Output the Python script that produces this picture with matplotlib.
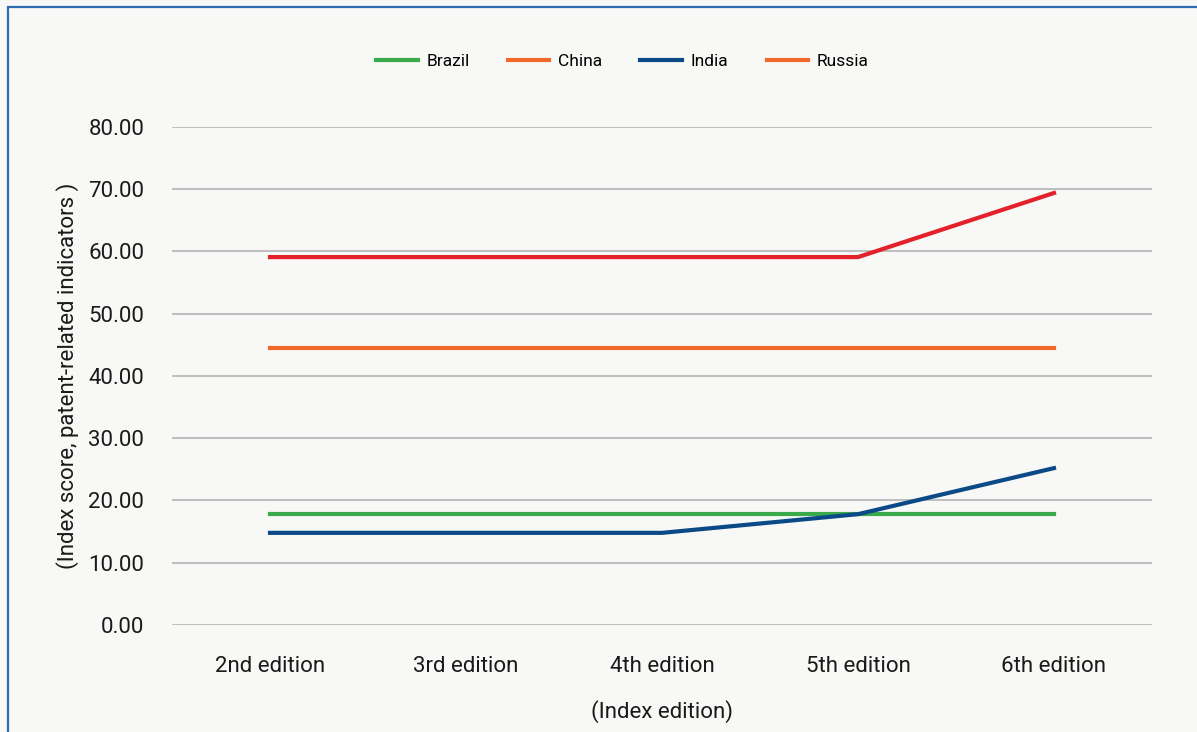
import numpy as np
import matplotlib.pyplot as plt
from matplotlib.lines import Line2D
from matplotlib.patches import Rectangle

editions = ['2nd edition', '3rd edition', '4th edition', '5th edition', '6th edition']
brazil = [17.8, 17.8, 17.8, 17.8, 17.8]
china = [59.1, 59.1, 59.1, 59.1, 69.4]
india = [14.8, 14.8, 14.8, 17.8, 25.2]
russia = [44.5, 44.5, 44.5, 44.5, 44.5]
y_ticks = [0, 10, 20, 30, 40, 50, 60, 70, 80]

plt.rcParams['font.family'] = ['Roboto', 'DejaVu Sans']

bg = '#f8f8f6'
fig = plt.figure(figsize=(11.97, 7.32), dpi=100, facecolor=bg)

# thin blue frame around the panel
fig.patches.append(Rectangle((8/1197, -0.05), 1.2, 1 - 7/732 + 0.05,
                             transform=fig.transFigure, fill=False,
                             edgecolor='#2d6cb0', linewidth=1.6))

ax = fig.add_axes([0.1437, 0.1462, 0.8187, 0.6803])
ax.set_facecolor('none')

x = np.arange(len(editions))
ax.plot(x, brazil, color='#3aaa4a', linewidth=3)
ax.plot(x, russia, color='#f26a2a', linewidth=3)
ax.plot(x, china, color='#e3212b', linewidth=3)
ax.plot(x, india, color='#0b4a87', linewidth=3)

ax.set_xlim(-0.5, 4.5)
ax.set_ylim(0, 80)
ax.set_yticks(y_ticks)
ax.set_yticklabels(['%.2f' % v for v in y_ticks])
ax.set_xticks(x)
ax.set_xticklabels(editions)
ax.grid(axis='y', color='#bdbdbd', linewidth=1.4)
ax.set_axisbelow(True)
for s in ax.spines.values():
    s.set_visible(False)
ax.tick_params(length=0, labelsize=16, colors='#1a1a1a')
ax.tick_params(axis='y', pad=20)
ax.tick_params(axis='x', pad=22)

ax.set_ylabel('(Index score, patent-related indicators )', fontsize=16,
              color='#1a1a1a', labelpad=7)
ax.set_xlabel('(Index edition)', fontsize=16, color='#1a1a1a', labelpad=17)

handles = [Line2D([], [], color='#3aaa4a', linewidth=3),
           Line2D([], [], color='#f26a2a', linewidth=3),
           Line2D([], [], color='#0b4a87', linewidth=3),
           Line2D([], [], color='#f26a2a', linewidth=3)]
fig.legend(handles, ['Brazil', 'China', 'India', 'Russia'], ncol=4,
           loc='center', bbox_to_anchor=(0.52, 0.916), frameon=False,
           fontsize=12.5, handlelength=2.4, columnspacing=2.2, handletextpad=0.5)

fig.savefig('out.png', dpi=100, facecolor=bg)
